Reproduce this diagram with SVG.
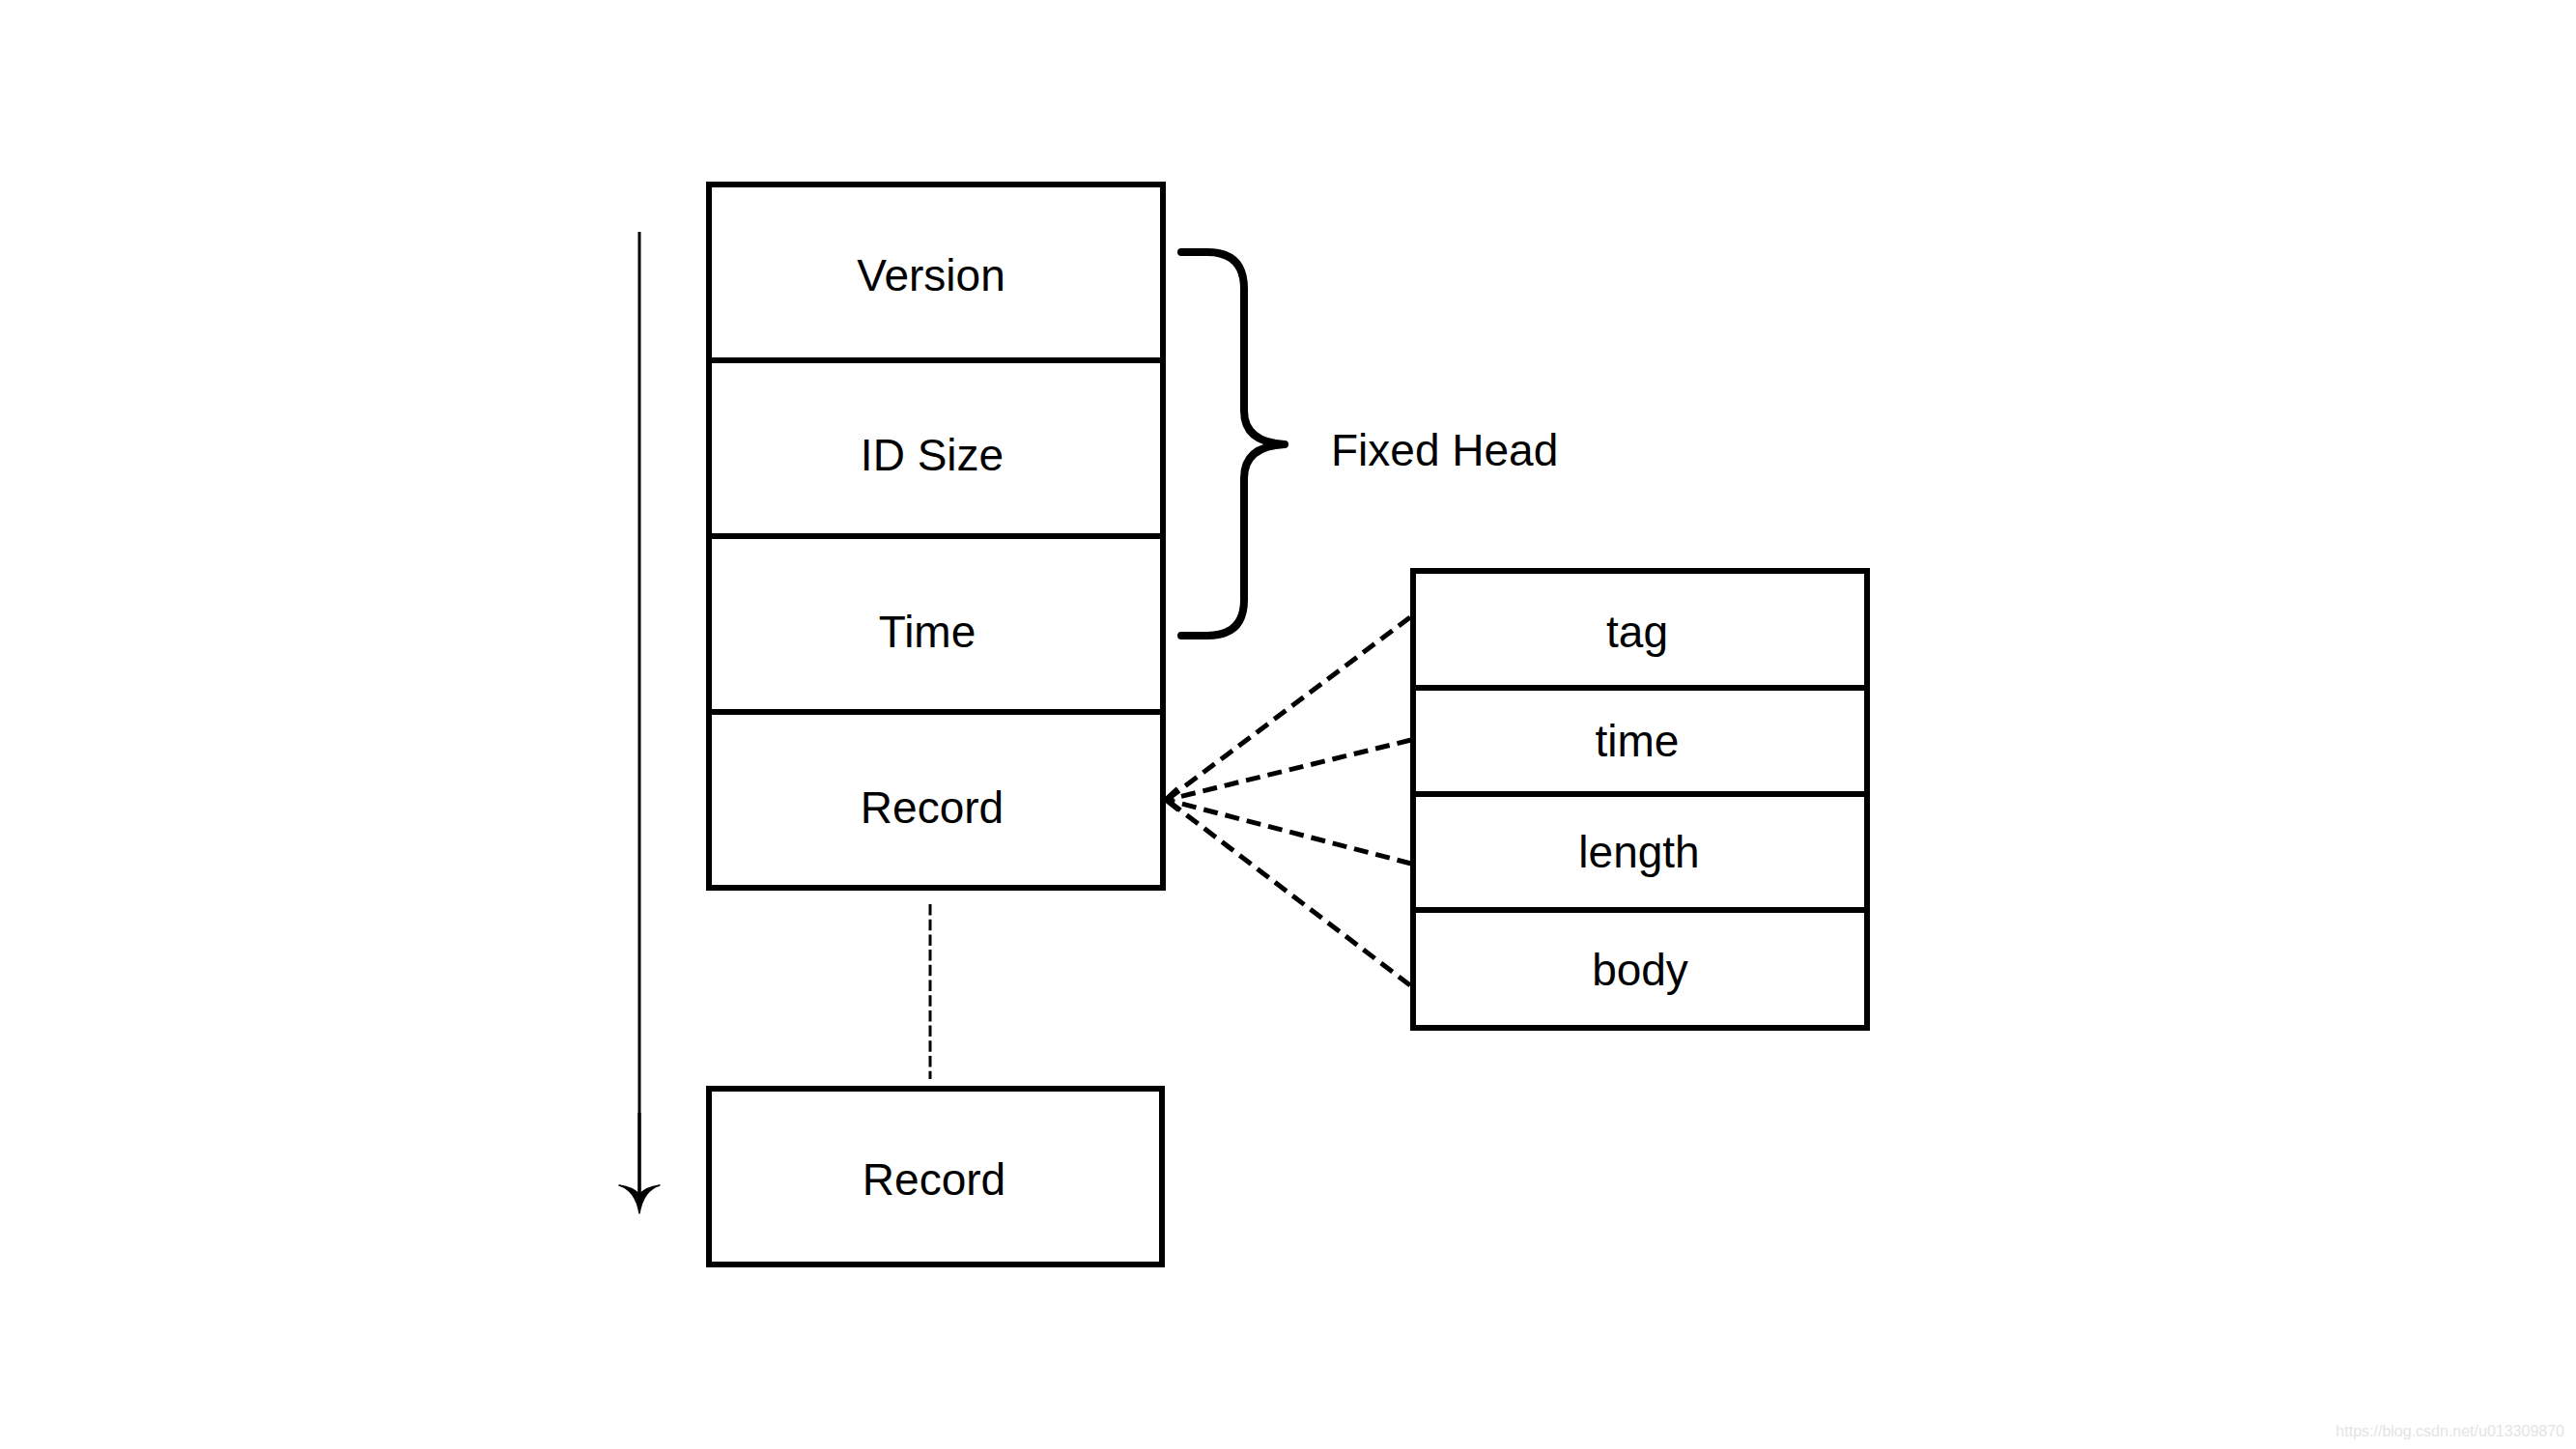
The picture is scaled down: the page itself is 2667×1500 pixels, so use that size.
<svg xmlns="http://www.w3.org/2000/svg" width="2667" height="1500" viewBox="0 0 2667 1500">
<style>
.box{fill:#fff;stroke:#000;stroke-width:6}
.div{stroke:#000;stroke-width:6}
.lbl{font-family:"Liberation Sans",Arial,sans-serif;font-size:46px;fill:#000;text-anchor:middle}
.dash{stroke:#000;stroke-width:5;stroke-dasharray:15 8;fill:none}
.wm{font-family:"Liberation Sans",Arial,sans-serif;font-size:16px;fill:#e4e4e4;text-anchor:end}
</style>
<rect width="2667" height="1500" fill="#fff"/>
<g id="timeline">
<line x1="662" y1="240" x2="662" y2="1152" stroke="#000" stroke-width="3"/>
<line x1="662" y1="1152" x2="662" y2="1240" stroke="#000" stroke-width="3.6"/>
<path d="M641,1227 Q658,1232 662,1256 Q666,1232 683,1227 Q668,1229 662,1237 Q656,1229 641,1227 Z" fill="#000" stroke="#000" stroke-width="1.5" stroke-linejoin="round"/>
</g>
<g id="header">
<rect class="box" x="734" y="191" width="470" height="728"/>
<line class="div" x1="734" y1="373" x2="1204" y2="373"/>
<line class="div" x1="734" y1="555" x2="1204" y2="555"/>
<line class="div" x1="734" y1="737" x2="1204" y2="737"/>
</g>
<g id="version"><text class="lbl" x="964" y="301">Version</text></g>
<g id="idsize"><text class="lbl" x="965" y="487">ID Size</text></g>
<g id="time"><text class="lbl" x="960" y="670">Time</text></g>
<g id="record1"><text class="lbl" x="965" y="852">Record</text></g>
<g id="record2">
<rect class="box" x="734" y="1127" width="469" height="182"/>
<text class="lbl" x="967" y="1237">Record</text>
</g>
<g id="fixed-head">
<path d="M1223,261 L1250,261 Q1288,261 1288,299 L1288,425 Q1288,458 1330,460 Q1288,462 1288,495 L1288,621 Q1288,658 1250,658 L1223,658" fill="none" stroke="#000" stroke-width="8" stroke-linecap="round" stroke-linejoin="round"/>
<text class="lbl" x="1378" y="482" style="text-anchor:start">Fixed Head</text>
</g>
<g id="record-detail">
<rect class="box" x="1463" y="591" width="470" height="473"/>
<line class="div" x1="1463" y1="712" x2="1933" y2="712"/>
<line class="div" x1="1463" y1="822" x2="1933" y2="822"/>
<line class="div" x1="1463" y1="942" x2="1933" y2="942"/>
<text class="lbl" x="1695" y="670">tag</text>
<text class="lbl" x="1695" y="783">time</text>
<text class="lbl" x="1697" y="898">length</text>
<text class="lbl" x="1698" y="1020">body</text>
</g>
<g id="connectors">
<line class="dash" x1="1460" y1="639" x2="1208" y2="828"/>
<line class="dash" x1="1461" y1="766" x2="1208" y2="828"/>
<line class="dash" x1="1461" y1="894" x2="1208" y2="828"/>
<line class="dash" x1="1460" y1="1020" x2="1208" y2="828"/>
<polyline points="1219,816 1206,828 1220,839" fill="none" stroke="#000" stroke-width="4"/>
<line x1="963" y1="936" x2="963" y2="1117" stroke="#000" stroke-width="3" stroke-dasharray="11.5 4.2"/>
</g>
<text class="wm" x="2655" y="1487">https://blog.csdn.net/u013309870</text>
</svg>
